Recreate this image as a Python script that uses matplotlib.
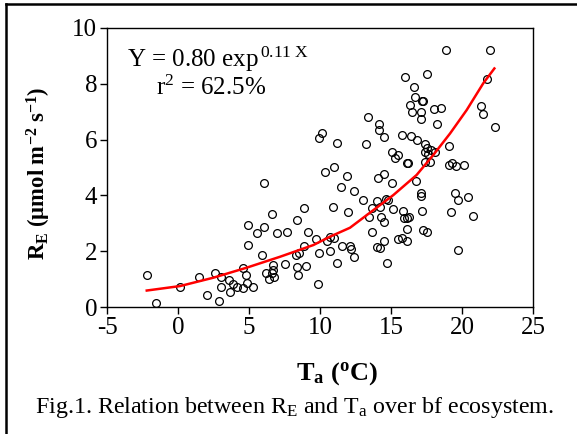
import matplotlib
matplotlib.use("Agg")
import matplotlib.pyplot as plt
from matplotlib.lines import Line2D

plt.rcParams["font.family"] = "Liberation Serif"
plt.rcParams["mathtext.fontset"] = "custom"
plt.rcParams["mathtext.rm"] = "Liberation Serif"
plt.rcParams["mathtext.it"] = "Liberation Serif:italic"
plt.rcParams["mathtext.bf"] = "Liberation Serif:bold"
plt.rcParams["axes.unicode_minus"] = False

# air temperature (oC) and ecosystem respiration (umol m-2 s-1)
ta = [-2.21, -1.55, 0.14, 1.50, 2.04, 2.58, 2.91, 3.00, 3.03, 3.59, 3.66, 3.85,
      4.13, 4.55, 4.60, 4.79, 4.84, 4.91, 4.93, 5.26, 5.56, 5.89, 6.08, 6.08,
      6.17, 6.43, 6.60, 6.64, 6.71, 6.71, 6.78, 6.95, 7.54, 7.70, 8.36, 8.31,
      8.36, 8.47, 8.52, 8.90, 8.87, 9.01, 9.13, 9.72, 9.84, 9.93, 9.95, 10.16,
      10.35, 10.47, 10.71, 10.71, 11.00, 10.89, 11.00, 11.22, 11.22, 11.46, 11.53,
      11.88, 12.00, 12.11, 12.16, 12.39, 12.39, 13.06, 13.24, 13.36, 13.47, 13.64,
      13.68, 13.99, 13.99, 14.10, 14.17, 14.17, 14.22, 14.22, 14.29, 14.52, 14.52,
      14.52, 14.52, 14.64, 14.74, 14.81, 15.05, 15.05, 15.16, 15.28, 15.47, 15.52,
      15.80, 15.80, 15.87, 15.94, 16.00, 16.10, 16.10, 16.10, 16.15, 16.22, 16.27,
      16.34, 16.38, 16.45, 16.64, 16.69, 16.76, 16.85, 17.08, 17.08, 17.08, 17.08,
      17.15, 17.20, 17.27, 17.27, 17.39, 17.39, 17.39, 17.51, 17.51, 17.55, 17.62,
      17.74, 17.79, 18.02, 18.09, 18.26, 18.50, 18.87, 19.09, 19.09, 19.20, 19.27,
      19.51, 19.55, 19.74, 19.74, 20.16, 20.40, 20.80, 21.34, 21.46, 21.74, 21.97,
      22.32]
re = [1.15, 0.13, 0.73, 1.06, 0.44, 1.21, 0.23, 1.06, 0.73, 0.97, 0.55, 0.82,
      0.73, 1.39, 0.67, 1.15, 0.85, 2.22, 2.94, 0.73, 2.64, 1.86, 2.88, 4.43,
      1.21, 1.00, 1.21, 3.32, 1.51, 1.33, 1.09, 2.64, 1.53, 2.68, 3.12, 1.86,
      1.45, 1.15, 1.92, 3.56, 2.20, 1.48, 2.68, 2.43, 0.82, 6.07, 1.92, 6.22,
      4.85, 2.38, 2.02, 2.50, 2.46, 3.60, 5.03, 5.89, 1.59, 4.31, 2.19,
      4.70, 3.39, 2.19, 2.07, 4.16, 1.80, 3.84, 5.84, 6.82, 3.21, 3.54,
      2.68, 3.80, 2.14, 4.64, 6.55, 6.34, 2.10, 3.60, 3.24, 6.10, 4.77,
      3.06, 2.37, 3.87, 1.59, 3.84, 4.43, 5.57, 3.51, 5.35, 2.43, 5.45,
      6.16, 2.49, 3.45, 3.18, 8.23, 3.18, 5.17, 2.37, 2.80, 5.15, 3.21,
      7.24, 6.12, 6.98, 7.90, 7.51, 4.52, 6.00, 7.00, 6.73, 4.10, 3.98,
      7.39, 3.44, 7.39, 2.76, 5.84, 5.20, 5.54, 8.34, 2.68, 5.69, 5.50,
      5.20, 5.63, 7.08, 5.57, 6.55, 7.14, 9.21, 5.78, 5.09, 3.39, 5.17,
      4.10, 5.07, 3.84, 2.04, 5.09, 3.93, 3.27, 7.20, 6.92, 8.17, 9.21,
      6.44]

# fitted exponential curve as drawn
fit_x = [-2.2, 0.14, 2.49, 4.84, 7.18, 9.53, 10.7, 12.11, 15.16, 16.8, 17.98,
         19.16, 20.33, 21.5, 22.28]
fit_y = [0.59, 0.75, 1.05, 1.41, 1.80, 2.22, 2.52, 2.84, 4.01, 4.73, 5.45,
         6.22, 7.06, 8.02, 8.55]

fig = plt.figure(figsize=(5.77, 4.34), dpi=100)
ax = fig.add_axes([107 / 577, 1 - 307 / 434, 426 / 577, 279 / 434])

ax.plot(ta, re, "o", mfc="none", mec="black", mew=0.9, ms=5.6, zorder=2)
ax.plot(fit_x, fit_y, color="red", lw=1.8, zorder=3)

ax.set_xlim(-5, 25)
ax.set_ylim(0, 10)
ax.set_xticks(range(-5, 26, 5))
ax.set_yticks(range(0, 11, 2))
ax.tick_params(direction="out", length=5, width=1, labelsize=18, pad=2)
for s in ax.spines.values():
    s.set_linewidth(1)

ax.set_xlabel(r"$\mathbf{T_a}$ ($\mathbf{^o}$C)", fontsize=19, fontweight="bold")
ax.xaxis.set_label_coords(0.54, -0.19)
ax.set_ylabel(r"$\mathbf{R_E}$ (µmol m$\mathbf{^{-2}}$ s$\mathbf{^{-1}}$)",
              fontsize=16.3, fontweight="bold")
ax.yaxis.set_label_coords(-0.127, 0.478)

ax.text(0.047, 0.86, r"Y = 0.80 exp$^{\,0.11\ \mathrm{X}}$", transform=ax.transAxes,
        fontsize=18)
ax.text(0.115, 0.76, r"r$^2$ = 62.5%", transform=ax.transAxes, fontsize=18)

fig.text(35 / 577, 1 - 413 / 434,
         r"Fig.1. Relation between R$_\mathrm{E}$ and T$_\mathrm{a}$ over bf ecosystem.",
         fontsize=17.3, va="baseline")

# outer frame (left and top edges visible)
fig.add_artist(Line2D([5.5 / 577, 5.5 / 577], [0, 1 - 3.5 / 434],
                      transform=fig.transFigure, color="black", lw=1.8))
fig.add_artist(Line2D([5.5 / 577, 1], [1 - 3.5 / 434, 1 - 3.5 / 434],
                      transform=fig.transFigure, color="black", lw=1.8))

fig.savefig("out.png", dpi=100)
